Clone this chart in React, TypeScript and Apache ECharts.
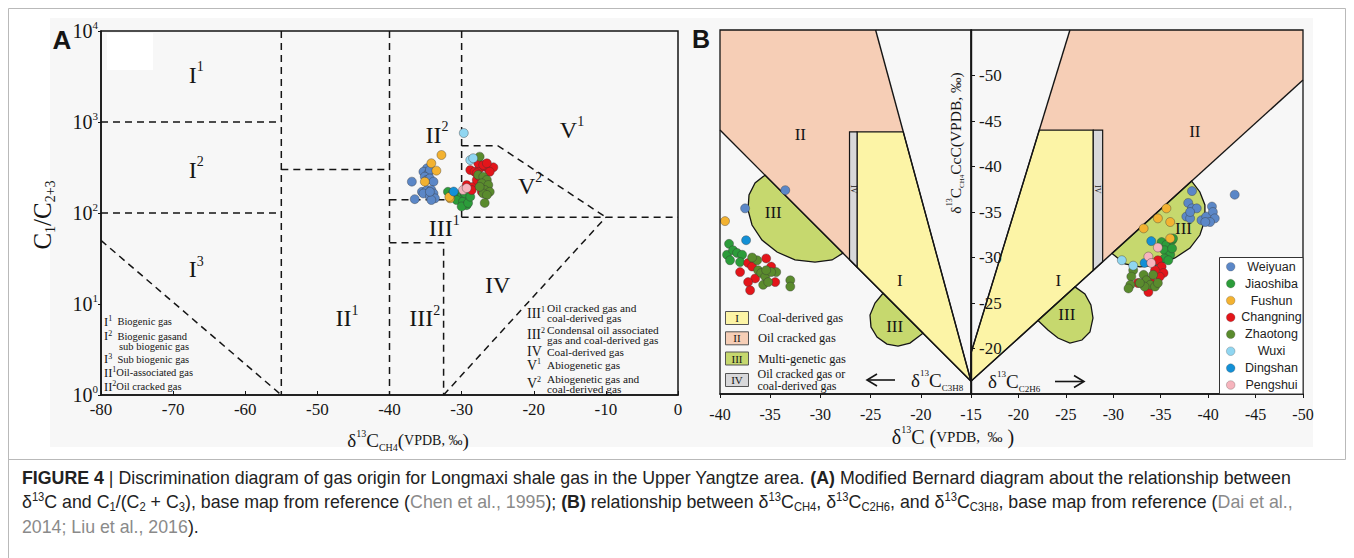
import React, { useEffect, useRef } from "react";
import * as echarts from "echarts";

type Pt = [number, number];

const SERIF = "'Liberation Serif', 'DejaVu Serif', serif";
const SANS = "'Liberation Sans', Arial, 'Noto Sans', sans-serif";
const INK = "#151515";

const SITES = ["Weiyuan", "Jiaoshiba", "Fushun", "Changning", "Zhaotong", "Wuxi", "Dingshan", "Pengshui"];
const SITE_COLORS = ["#5b87c7", "#2c9c3a", "#f3b231", "#e3151a", "#5a8b2d", "#90d6f1", "#1390d6", "#f6b4bd"];

// ---- Panel A : δ13C CH4 (‰) vs C1/(C2+C3)
const aWeiyuan: Pt[] = [[-34.8, 310], [-35.3, 284], [-34.6, 273], [-34.4, 297], [-35.1, 251], [-34.8, 231], [-34.4, 240], [-33.9, 221], [-36.9, 221], [-35.5, 171], [-34.8, 179], [-34.2, 179], [-33.9, 164], [-35.3, 164], [-34.4, 151], [-33.7, 145], [-36.5, 142], [-34.2, 139], [-34.4, 171]];
const aJiaoshiba: Pt[] = [[-31.9, 171], [-31.2, 164], [-30.5, 158], [-30.0, 151], [-29.5, 158], [-29.3, 145], [-30.7, 139], [-29.8, 134], [-29.3, 122], [-30.0, 118], [-29.1, 129], [-29.5, 164], [-28.8, 151]];
const aFushun: Pt[] = [[-32.8, 434], [-34.2, 352], [-33.5, 292], [-35.1, 221], [-31.6, 145], [-31.7, 150]];
const aChangning: Pt[] = [[-28.8, 297], [-28.2, 284], [-27.5, 310], [-26.8, 323], [-26.3, 310], [-25.6, 318], [-27.7, 352], [-27.0, 337], [-26.5, 352], [-26.1, 284], [-29.3, 203], [-28.4, 194], [-27.9, 231], [-27.5, 251], [-28.6, 179], [-27.2, 171], [-26.5, 179], [-27.9, 273]];
const aZhaotong: Pt[] = [[-27.5, 416], [-27.7, 262], [-27.0, 251], [-26.5, 231], [-27.2, 212], [-26.3, 203], [-26.8, 179], [-26.1, 171], [-27.0, 164], [-26.5, 158], [-27.5, 194], [-26.8, 129]];
const aWuxi: Pt[] = [[-29.7, 757], [-28.8, 382], [-28.4, 400]];
const aDingshan: Pt[] = [[-31.1, 172]];
const aPengshui: Pt[] = [[-29.8, 179], [-29.3, 188]];

// ---- Panel B, left half : δ13C C3H8 (x) vs δ13C CH4 (y)
const blWeiyuan: Pt[] = [[-33.5, -37.4], [-37.5, -35.4]];
const blJiaoshiba: Pt[] = [[-39.1, -31.5], [-39.3, -30.3], [-39.0, -29.7], [-38.7, -30.8], [-38.3, -30.5], [-37.8, -30.3], [-38.0, -29.5]];
const blFushun: Pt[] = [[-39.5, -34.0]];
const blChangning: Pt[] = [[-37.2, -29.4], [-36.8, -29.0], [-35.4, -29.9], [-34.9, -29.0], [-38.0, -28.4], [-36.5, -27.7], [-37.2, -27.3], [-37.0, -26.4], [-34.5, -27.3]];
const blZhaotong: Pt[] = [[-36.3, -29.7], [-36.2, -28.6], [-35.9, -28.3], [-35.5, -27.9], [-35.7, -27.0], [-35.2, -27.3], [-34.4, -28.4], [-34.9, -28.4], [-35.4, -28.6], [-33.0, -27.5], [-33.0, -26.8], [-36.8, -30.0]];
const blWuxi: Pt[] = [];
const blDingshan: Pt[] = [[-37.4, -31.9]];
const blPengshui: Pt[] = [];

// ---- Panel B, right half : δ13C C2H6 (x) vs δ13C CH4 (y)
const brWeiyuan: Pt[] = [[-38.3, -37.3], [-37.9, -36.0], [-38.3, -35.4], [-38.8, -35.4], [-37.7, -34.5], [-38.1, -34.3], [-39.3, -34.1], [-39.8, -34.5], [-40.4, -35.6], [-40.5, -35.0], [-40.7, -34.3], [-40.2, -33.9], [-42.8, -36.9], [-38.1, -35.0], [-39.7, -33.9]];
const brJiaoshiba: Pt[] = [[-35.1, -31.7], [-35.6, -31.4], [-36.2, -31.9], [-36.3, -32.1], [-35.4, -30.8], [-36.0, -30.3], [-35.4, -29.9], [-35.8, -29.7], [-36.2, -31.0]];
const brFushun: Pt[] = [[-35.6, -35.4], [-34.7, -34.3], [-36.0, -33.9], [-33.2, -33.2], [-36.0, -32.1]];
const brChangning: Pt[] = [[-34.7, -29.7], [-35.1, -29.0], [-35.3, -28.3], [-34.9, -27.9], [-32.6, -27.2], [-33.9, -27.5], [-33.7, -26.2], [-34.4, -28.6]];
const brZhaotong: Pt[] = [[-32.1, -28.6], [-31.9, -27.9], [-31.8, -27.0], [-31.6, -26.6], [-33.2, -28.1], [-33.5, -27.5], [-33.9, -27.0], [-34.4, -26.8], [-34.7, -27.2], [-33.3, -26.8], [-32.8, -27.2], [-34.2, -28.1]];
const brWuxi: Pt[] = [[-30.9, -29.7], [-32.1, -29.1]];
const brDingshan: Pt[] = [[-34.0, -31.8], [-33.3, -29.4]];
const brPengshui: Pt[] = [[-34.7, -31.1], [-33.7, -30.1], [-34.0, -29.4]];

const A_SETS = [aWeiyuan, aJiaoshiba, aFushun, aChangning, aZhaotong, aWuxi, aDingshan, aPengshui];
const BL_SETS = [blWeiyuan, blJiaoshiba, blFushun, blChangning, blZhaotong, blWuxi, blDingshan, blPengshui];
const BR_SETS = [brWeiyuan, brJiaoshiba, brFushun, brChangning, brZhaotong, brWuxi, brDingshan, brPengshui];

// ---- Panel A boundaries (dashed), in data units
const aBoundaries: Pt[][] = [
  [[-55, 10000], [-55, 1]],
  [[-80, 1000], [-55, 1000]],
  [[-80, 100], [-55, 100]],
  [[-80, 50], [-55, 1]],
  [[-55, 300], [-40, 300]],
  [[-40, 10000], [-40, 1]],
  [[-40, 140], [-30, 140]],
  [[-30, 10000], [-30, 90]],
  [[-30, 550], [-25, 550], [-10, 90]],
  [[-30, 90], [0, 90]],
  [[-40, 47], [-32.5, 47], [-32.5, 1]],
  [[-32.5, 1], [-10, 90]],
];
const aRegionNames = ["{r|I}{s|1}", "{r|I}{s|2}", "{r|I}{s|3}", "{r|II}{s|1}", "{r|II}{s|2}", "{r|III}{s|1}", "{r|III}{s|2}", "{r|IV}", "{r|V}{s|1}", "{r|V}{s|2}"];
const aRegionAt: Pt[] = [[-66.8, 3300], [-66.8, 297], [-66.8, 24], [-45.9, 7], [-33.4, 720], [-32.4, 68], [-35.1, 7], [-25, 16], [-14.7, 820], [-20.5, 200]];

// ---- Panel B regions, left half (x = δ13C C3H8)
const bLeftII: Pt[] = [[-40, -55], [-24.5, -55], [-21.75, -43.8], [-27.1, -43.8], [-27.1, -29.76], [-40, -44]];
const bLeftI: Pt[] = [[-26.35, -43.8], [-21.75, -43.8], [-15, -16.4], [-26.35, -28.93]];
const bLeftIV: Pt[] = [[-27.1, -43.8], [-26.35, -43.8], [-26.35, -28.93], [-27.1, -29.76]];
const bLeftIIIa: Pt[] = [[-35.52, -39.05], [-36.51, -38.19], [-37.11, -36.87], [-37.21, -35.22], [-36.81, -33.57], [-35.82, -31.92], [-34.32, -30.6], [-32.53, -29.73], [-30.54, -29.5], [-28.84, -29.73], [-27.75, -30.48]];
const bLeftIIIb: Pt[] = [[-23.76, -26.07], [-24.56, -25.0], [-25.06, -23.68], [-24.96, -22.36], [-24.36, -21.26], [-23.37, -20.49], [-22.27, -20.27], [-21.08, -20.6], [-19.78, -21.68]];
const bLeftLines: Pt[][] = [[[-40, -44], [-15, -16.4]], [[-24.5, -55], [-15, -16.4]]];

// ---- Panel B regions, right half (x = δ13C C2H6)
const bRightII: Pt[] = [[-25.43, -55], [-50, -55], [-50, -49.5], [-28.88, -29.53], [-28.88, -44], [-22.2, -44]];
const bRightI: Pt[] = [[-22.2, -44], [-27.89, -44], [-27.89, -28.59], [-15, -16.4], [-15, -19.5]];
const bRightIV: Pt[] = [[-27.89, -44], [-28.88, -44], [-28.88, -29.53], [-27.89, -28.59]];
const bRightIIIa: Pt[] = [[-38.26, -38.4], [-39.13, -37.2], [-39.66, -35.77], [-39.66, -34.12], [-39.13, -32.47], [-38.08, -31.04], [-36.5, -29.95], [-34.71, -29.18], [-32.81, -28.96], [-31.23, -29.29], [-29.86, -30.45]];
const bRightIIIb: Pt[] = [[-25.96, -26.77], [-27.01, -25.99], [-27.64, -24.78], [-27.86, -23.35], [-27.54, -21.81], [-26.7, -20.93], [-25.43, -20.6], [-24.17, -21.15], [-23.11, -22.03], [-22.06, -23.08]];
const bRightLines: Pt[][] = [[[-15, -19.5], [-25.43, -55]], [[-15, -16.4], [-50, -49.5]]];

const bLeftNames = ["II", "III", "I", "III"];
const bLeftAt: Pt[] = [[-32.0, -43.5], [-34.7, -34.9], [-22.1, -27.5], [-22.6, -22.4]];
const bRightNames = ["II", "III", "I", "III"];
const bRightAt: Pt[] = [[-38.6, -43.8], [-37.4, -33.2], [-24.2, -27.5], [-25.1, -23.7]];
const bLeftStripAt: Pt = [-26.72, -37.5];
const bRightStripAt: Pt = [-28.38, -37.5];

const GAS_TYPES = ["Coal-derived gas", "Oil cracked gas", "Multi-genetic gas", "Oil cracked gas or\ncoal-derived gas"];
const GAS_CODES = ["I", "II", "III", "IV"];

const C_PINK = "#f6ceb6";
const C_YELLOW = "#fcf4a6";
const C_GREEN = "#c6d86e";
const C_GRAY = "#d8d8da";
const GAS_COLORS = [C_YELLOW, C_PINK, C_GREEN, C_GRAY];

function tok(size: number, extra: any = {}) {
  return { fontFamily: SERIF, fontSize: size, fill: INK, color: INK, ...extra };
}

function polygonSeries(gi: number, items: { pts: Pt[]; fill: string; stroke?: string; lw?: number }[], z: number) {
  return {
    type: "custom",
    xAxisIndex: gi,
    yAxisIndex: gi,
    silent: true,
    z,
    clip: false,
    data: items.map((it, i) => [it.pts[0][0], it.pts[0][1], i]),
    renderItem: (params: any, api: any) => {
      const it = items[params.dataIndex];
      return {
        type: "polygon",
        shape: { points: it.pts.map((p) => api.coord(p)) },
        style: { fill: it.fill, stroke: it.stroke || null, lineWidth: it.lw || 0 },
      };
    },
  };
}

function lineSeries(gi: number, items: Pt[][], dashed: boolean, z: number) {
  return {
    type: "custom",
    xAxisIndex: gi,
    yAxisIndex: gi,
    silent: true,
    z,
    clip: false,
    data: items.map((it, i) => [it[0][0], it[0][1], i]),
    renderItem: (params: any, api: any) => {
      const it = items[params.dataIndex];
      return {
        type: "polyline",
        shape: { points: it.map((p) => api.coord(p)) },
        style: { fill: null, stroke: INK, lineWidth: dashed ? 1.5 : 1.4, lineDash: dashed ? [7, 5] : null },
      };
    },
  };
}

function labelSeries(gi: number, texts: string[], at: Pt[], rich: any, rot: number, size: number, z: number) {
  return {
    type: "custom",
    xAxisIndex: gi,
    yAxisIndex: gi,
    silent: true,
    z,
    clip: false,
    data: at.map((p, i) => [p[0], p[1], i]),
    renderItem: (params: any, api: any) => {
      const i = params.dataIndex;
      const c = api.coord(at[i]);
      return {
        type: "text",
        x: c[0],
        y: c[1],
        rotation: rot,
        style: {
          text: texts[i],
          rich,
          fontFamily: SERIF,
          fontSize: size,
          fill: INK,
          align: "center",
          verticalAlign: "middle",
          textAlign: "center",
          textVerticalAlign: "middle",
        },
      };
    },
  };
}

function gText(x: number, y: number, text: string, o: any = {}) {
  return {
    type: "text",
    x,
    y,
    z: 30,
    silent: true,
    rotation: o.rot || 0,
    scaleX: o.scaleX || 1,
    style: {
      text,
      fontFamily: o.family || SERIF,
      fontSize: o.size || 12,
      fontWeight: o.weight || "normal",
      fill: o.fill || INK,
      lineHeight: o.lh,
      align: o.align || "left",
      verticalAlign: o.valign || "middle",
      textAlign: o.align || "left",
      textVerticalAlign: o.valign || "middle",
      rich: o.rich,
    },
  };
}

function gLine(pts: number[][], w = 1.5, color = INK, z = 30) {
  return { type: "polyline", z, silent: true, shape: { points: pts }, style: { fill: null, stroke: color, lineWidth: w } };
}

function buildOption() {
  const series: any[] = [];

  series.push(
    polygonSeries(1, [
      { pts: bLeftII, fill: C_PINK },
      { pts: bLeftI, fill: C_YELLOW, stroke: INK, lw: 1.2 },
      { pts: bLeftIV, fill: C_GRAY, stroke: INK, lw: 1.2 },
      { pts: bLeftIIIa, fill: C_GREEN, stroke: INK, lw: 1.3 },
      { pts: bLeftIIIb, fill: C_GREEN, stroke: INK, lw: 1.3 },
    ], 1)
  );
  series.push(
    polygonSeries(2, [
      { pts: bRightII, fill: C_PINK },
      { pts: bRightI, fill: C_YELLOW, stroke: INK, lw: 1.2 },
      { pts: bRightIV, fill: C_GRAY, stroke: INK, lw: 1.2 },
      { pts: bRightIIIa, fill: C_GREEN, stroke: INK, lw: 1.3 },
      { pts: bRightIIIb, fill: C_GREEN, stroke: INK, lw: 1.3 },
    ], 1)
  );
  series.push(lineSeries(1, bLeftLines, false, 2));
  series.push(lineSeries(2, bRightLines, false, 2));
  series.push(lineSeries(0, aBoundaries, true, 2));

  const richA = { r: tok(24, { lineHeight: 30 }), s: tok(14, { verticalAlign: "top", lineHeight: 15 }) };
  series.push(labelSeries(0, aRegionNames, aRegionAt, richA, 0, 24, 3));
  const richB = { r: tok(17) };
  series.push(labelSeries(1, bLeftNames.map((t) => `{r|${t}}`), bLeftAt, richB, 0, 17, 3));
  series.push(labelSeries(2, bRightNames.map((t) => `{r|${t}}`), bRightAt, richB, 0, 17, 3));
  const richIV = { r: tok(8) };
  series.push(labelSeries(1, ["{r|IV}"], [bLeftStripAt], richIV, -Math.PI / 2, 8, 3));
  series.push(labelSeries(2, ["{r|IV}"], [bRightStripAt], richIV, -Math.PI / 2, 8, 3));

  SITES.forEach((name, i) => {
    const sets: [Pt[], number][] = [[A_SETS[i], 0], [BL_SETS[i], 1], [BR_SETS[i], 2]];
    sets.forEach(([data, gi]) => {
      if (!data.length) return;
      series.push({
        type: "scatter",
        name,
        xAxisIndex: gi,
        yAxisIndex: gi,
        data,
        symbolSize: 9,
        z: 4,
        clip: false,
        itemStyle: { color: SITE_COLORS[i], borderColor: "rgba(55,55,55,0.65)", borderWidth: 0.6, opacity: 1 },
      });
    });
  });

  const axisLbl = (size: number, margin: number) => ({ fontFamily: SERIF, fontSize: size, color: INK, margin });
  const lineSt = { show: true, onZero: false, lineStyle: { color: INK, width: 1.5 } };

  const g: any[] = [];
  g.push({ type: "rect", z: -5, silent: true, shape: { x: 50, y: 18, width: 1263, height: 429 }, style: { fill: "#f7f7f7" } });
  g.push({ type: "rect", z: -4, silent: true, shape: { x: 107, y: 33, width: 46, height: 37 }, style: { fill: "#ffffff" } });
  g.push(gLine([[8.5, 558], [8.5, 8.5], [1345.5, 8.5], [1345.5, 459.5], [8.5, 459.5]], 1, "#b9b9b9", -3));

  g.push(gText(62, 40, "A", { family: SANS, size: 26, weight: "bold", align: "center" }));
  g.push(gText(701, 39, "B", { family: SANS, size: 25, weight: "bold", align: "center" }));

  g.push(
    gText(42, 215, "{c|C}{b|1}{c|/C}{b|2+3}", {
      rot: Math.PI / 2,
      align: "center",
      size: 24,
      rich: { c: tok(25, { lineHeight: 30 }), b: tok(14, { verticalAlign: "bottom", lineHeight: 14 }) },
    })
  );
  g.push(
    gText(408, 440, "{c|δ}{s|13}{c|C}{b|CH4}{c|(}{v|VPDB, ‰}{c|)}", {
      align: "center",
      size: 19,
      rich: {
        c: tok(19, { lineHeight: 24 }),
        s: tok(10, { verticalAlign: "top", lineHeight: 11 }),
        b: tok(10, { verticalAlign: "bottom", lineHeight: 11 }),
        v: tok(14, { lineHeight: 24 }),
      },
    })
  );

  const richL = { r: tok(12.5, { lineHeight: 14 }), s: tok(8, { verticalAlign: "top", lineHeight: 8 }), t: tok(10.5, { lineHeight: 14 }) };
  const leftLeg: [number, number, string][] = [
    [104, 321.7, "{r|I}{s|1}{t|  Biogenic gas}"],
    [104, 336, "{r|I}{s|2}{t|  Biogenic gasand}"],
    [119, 346, "{t|sub biogenic gas}"],
    [104, 359.3, "{r|I}{s|3}{t|  Sub biogenic gas}"],
    [104, 372.7, "{r|II}{s|1}{t|Oil-associated gas}"],
    [104, 386.7, "{r|II}{s|2}{t|Oil cracked gas}"],
  ];
  leftLeg.forEach(([x, y, t]) => g.push(gText(x, y, t, { rich: richL, size: 10.5 })));

  const richR = { r: tok(14, { lineHeight: 16 }), s: tok(8, { verticalAlign: "top", lineHeight: 8 }) };
  const rightRoman: [number, string][] = [[313, "{r|III}{s|1}"], [334.5, "{r|III}{s|2}"], [351.5, "{r|IV}"], [365, "{r|V}{s|1}"], [383, "{r|V}{s|2}"]];
  rightRoman.forEach(([y, t]) => g.push(gText(527, y, t, { rich: richR, size: 14 })));
  const rightTxt: [number, string][] = [
    [308, "Oil cracked gas and"],
    [318, "coal-derived gas"],
    [329.5, "Condensal oil associated"],
    [339.5, "gas and coal-derived gas"],
    [351.5, "Coal-derived gas"],
    [365, "Abiogenetic gas"],
    [378.5, "Abiogenetic gas and"],
    [388.5, "coal-derived gas"],
  ];
  rightTxt.forEach(([y, t]) => g.push(gText(547, y, t, { size: 11.3 })));

  g.push(
    gText(955, 143, "{c|δ}{s|13}{c|C}{b|CH4}{c|CcC(VPDB, ‰)}", {
      rot: Math.PI / 2,
      align: "center",
      size: 15,
      rich: {
        c: tok(15.5, { lineHeight: 20 }),
        s: tok(8, { verticalAlign: "top", lineHeight: 8 }),
        b: tok(7, { verticalAlign: "bottom", lineHeight: 8 }),
      },
    })
  );
  g.push(
    gText(953, 437, "{c|δ}{s|13}{c|C (}{v|VPDB,  ‰}{c| )}", {
      align: "center",
      size: 20,
      rich: {
        c: tok(20, { lineHeight: 26 }),
        s: tok(10, { verticalAlign: "top", lineHeight: 11 }),
        v: tok(15, { lineHeight: 26 }),
      },
    })
  );
  const richArrow = {
    c: tok(19, { lineHeight: 24 }),
    s: tok(9, { verticalAlign: "top", lineHeight: 10 }),
    b: tok(9, { verticalAlign: "bottom", lineHeight: 10 }),
  };
  g.push(gText(911, 380, "{c|δ}{s|13}{c|C}{b|C3H8}", { rich: richArrow, size: 19 }));
  g.push(gText(988, 381, "{c|δ}{s|13}{c|C}{b|C2H6}", { rich: richArrow, size: 19 }));
  g.push(gLine([[868, 380], [895, 380]], 1.6));
  g.push(gLine([[877, 374], [867, 380], [877, 386]], 1.6));
  g.push(gLine([[1055, 381.5], [1083, 381.5]], 1.6));
  g.push(gLine([[1074, 375.5], [1084, 381.5], [1074, 387.5]], 1.6));

  const boxY = [318, 338.3, 358.5, 380];
  GAS_TYPES.forEach((t, i) => {
    g.push({ type: "rect", z: 29, silent: true, shape: { x: 725.5, y: boxY[i] - 6.5, width: 23, height: 13 }, style: { fill: GAS_COLORS[i], stroke: "#555", lineWidth: 1 } });
    g.push(gText(737, boxY[i], GAS_CODES[i], { size: 11, align: "center" }));
    const lines = t.split("\n");
    if (lines.length === 1) g.push(gText(758, boxY[i], t, { size: 12.5 }));
    else {
      g.push(gText(757.5, boxY[i] - 6, lines[0], { size: 12 }));
      g.push(gText(757.5, boxY[i] + 6, lines[1], { size: 12 }));
    }
  });

  g.push({ type: "rect", z: 29, silent: true, shape: { x: 1219.5, y: 257.5, width: 83.5, height: 136.5 }, style: { fill: "#ffffff", stroke: "#333", lineWidth: 1 } });
  SITES.forEach((name, i) => {
    const y = 266.7 + i * 16.9;
    g.push({ type: "circle", z: 30, silent: true, shape: { cx: 1230.7, cy: y, r: 4.3 }, style: { fill: SITE_COLORS[i], stroke: "rgba(55,55,55,0.5)", lineWidth: 0.5 } });
    g.push(gText(1271.5, y, name, { family: SANS, size: 12.5, align: "center", fill: "#222" }));
  });

  // caption
  const CAP = 19;
  const SUB = 12;
  const capRich = {
    k: { fontFamily: SANS, fontSize: CAP, fontWeight: "bold", fill: "#222", lineHeight: 22 },
    g: { fontFamily: SANS, fontSize: CAP, fill: "#8a8a8a", lineHeight: 22 },
    s: { fontFamily: SANS, fontSize: SUB, fill: "#222", verticalAlign: "top", lineHeight: 12 },
    b: { fontFamily: SANS, fontSize: SUB, fill: "#222", verticalAlign: "bottom", lineHeight: 12 },
  };
  const capOpts = { family: SANS, size: CAP, fill: "#222", lh: 22, rich: capRich, scaleX: 0.935 };
  g.push(gText(22, 477, "{k|FIGURE 4} | Discrimination diagram of gas origin for Longmaxi shale gas in the Upper Yangtze area. {k|(A)} Modified Bernard diagram about the relationship between", capOpts));
  g.push(gText(22, 501, "δ{s|13}C and C{b|1}/(C{b|2} + C{b|3}), base map from reference ({g|Chen et al., 1995}); {k|(B)} relationship between δ{s|13}C{b|CH4}, δ{s|13}C{b|C2H6}, and δ{s|13}C{b|C3H8}, base map from reference ({g|Dai et al.,}", capOpts));
  g.push(gText(22, 526, "{g|2014; Liu et al., 2016}).", capOpts));

  return {
    animation: false,
    backgroundColor: "#ffffff",
    grid: [
      { left: 101, top: 31, width: 577, height: 364, show: true, borderColor: INK, borderWidth: 1.5, backgroundColor: "transparent", z: 5 },
      { left: 720, top: 30, width: 251, height: 364, show: true, borderColor: INK, borderWidth: 1.3, backgroundColor: "transparent", z: 5 },
      { left: 971, top: 30, width: 332, height: 364, show: true, borderColor: INK, borderWidth: 1.3, backgroundColor: "transparent", z: 5 },
    ],
    xAxis: [
      {
        gridIndex: 0, type: "value", min: -80, max: 0, interval: 10, z: 6,
        axisLine: lineSt, axisTick: { show: true, inside: true, length: 4, lineStyle: { color: INK } },
        splitLine: { show: false }, axisLabel: axisLbl(17, 6),
      },
      {
        gridIndex: 1, type: "value", min: -40, max: -15, interval: 5, z: 6,
        axisLine: lineSt, axisTick: { show: true, length: 4, lineStyle: { color: INK } },
        splitLine: { show: false }, axisLabel: axisLbl(16, 12),
      },
      {
        gridIndex: 2, type: "value", min: -50, max: -15, interval: 5, inverse: true, z: 6,
        axisLine: lineSt, axisTick: { show: true, length: 4, lineStyle: { color: INK } },
        splitLine: { show: false }, axisLabel: { ...axisLbl(16, 12), showMaxLabel: false },
      },
    ],
    yAxis: [
      {
        gridIndex: 0, type: "log", logBase: 10, min: 1, max: 10000, z: 6,
        axisLine: lineSt, axisTick: { show: true, length: 3, lineStyle: { color: INK } },
        splitLine: { show: false },
        axisLabel: {
          margin: 3,
          formatter: (v: number) => `{b|10}{e|${Math.round(Math.log10(v))}}`,
          rich: { b: tok(20, { lineHeight: 24 }), e: tok(11, { verticalAlign: "top", lineHeight: 11 }) },
        },
      },
      { gridIndex: 1, type: "value", min: -55, max: -15, interval: 5, inverse: true, show: false },
      {
        gridIndex: 2, type: "value", min: -55, max: -15, interval: 5, inverse: true, position: "left", z: 6,
        axisLine: { show: true, onZero: false, lineStyle: { color: INK, width: 1.4 } },
        axisTick: { show: true, inside: true, length: 4, lineStyle: { color: INK } },
        splitLine: { show: false },
        axisLabel: { ...axisLbl(17, 8), inside: true, showMinLabel: false, showMaxLabel: false },
      },
    ],
    graphic: { elements: g },
    series,
  };
}

export default function App() {
  const ref = useRef<HTMLDivElement>(null);
  useEffect(() => {
    if (!ref.current) return;
    const chart = echarts.init(ref.current, undefined, { renderer: "svg" });
    chart.setOption(buildOption() as any);
    return () => chart.dispose();
  }, []);
  return <div ref={ref} style={{ position: "absolute", left: 0, top: 0, width: 1354, height: 558, background: "#fff" }} />;
}
